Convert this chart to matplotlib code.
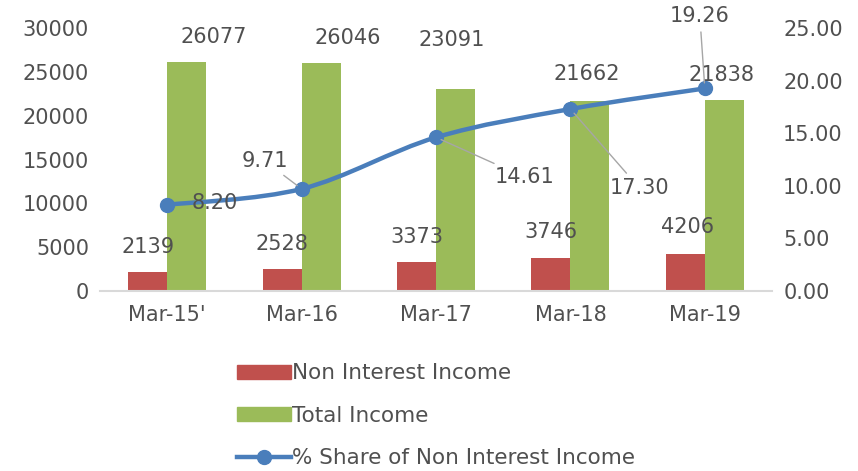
import numpy as np
import matplotlib.pyplot as plt
from matplotlib.path import Path
from matplotlib.patches import PathPatch
from matplotlib.lines import Line2D
from matplotlib.patches import Patch

plt.rcParams['font.family'] = ['DejaVu Sans']

categories = ["Mar-15'", "Mar-16", "Mar-17", "Mar-18", "Mar-19"]
non_interest = [2139, 2528, 3373, 3746, 4206]
total_income = [26077, 26046, 23091, 21662, 21838]
share_pct = [8.20, 9.71, 14.61, 17.30, 19.26]

RED = "#C0504D"
GREEN = "#9BBB59"
BLUE = "#4A7EBB"
TXT = "#505050"
FS = 15

# label offsets in pixels (manual placement like the original)
red_off = [(0, 25), (0, 25), (0, 25), (0, 26), (2, 27)]
green_off = [(27, 25), (27, 25), (-4, 49), (-3, 27), (-3, 25)]
pct_off = [(48, 2), (-37, 28), (89, -40), (69, -79), (-5, 72)]
pct_leader = [False, True, True, True, True]


def smooth_path(xs, ys):
    # Catmull-Rom style bezier control points, like Excel's smoothed line
    pts = np.column_stack([xs, ys]).astype(float)
    verts = [pts[0]]
    codes = [Path.MOVETO]
    n = len(pts)
    for i in range(n - 1):
        p0 = pts[i - 1] if i > 0 else pts[i]
        p1 = pts[i]
        p2 = pts[i + 1]
        p3 = pts[i + 2] if i + 2 < n else pts[i + 1]
        c1 = p1 + (p2 - p0) / 6.0
        c2 = p2 - (p3 - p1) / 6.0
        verts += [c1, c2, p2]
        codes += [Path.CURVE4] * 3
    return Path(verts, codes)


fig = plt.figure(figsize=(8.58, 4.71), dpi=100)
ax = fig.add_axes([0.1166, 0.382, 0.7832, 0.5585])
ax2 = ax.twinx()

x = np.arange(len(categories))
w = 0.29
b1 = ax.bar(x - w / 2, non_interest, w, color=RED, zorder=2)
b2 = ax.bar(x + w / 2, total_income, w, color=GREEN, zorder=2)

for rect, v, off in zip(b1, non_interest, red_off):
    ax.annotate(str(v), (rect.get_x() + rect.get_width() / 2, rect.get_height()),
                xytext=off, textcoords='offset pixels', ha='center', va='center',
                fontsize=FS, color=TXT)
for rect, v, off in zip(b2, total_income, green_off):
    ax.annotate(str(v), (rect.get_x() + rect.get_width() / 2, rect.get_height()),
                xytext=off, textcoords='offset pixels', ha='center', va='center',
                fontsize=FS, color=TXT)

ax.set_xlim(-0.5, len(categories) - 0.5)
ax.set_ylim(0, 30000)
ax.set_yticks(range(0, 30001, 5000))
ax.set_xticks(x)
ax.set_xticklabels(categories)
ax2.set_ylim(0, 25)
ax2.set_yticks(np.arange(0, 25.1, 5))
ax2.set_yticklabels(["%.2f" % t for t in np.arange(0, 25.1, 5)])

ax2.add_patch(PathPatch(smooth_path(x, share_pct), fill=False, edgecolor=BLUE,
                        lw=3.2, capstyle='round', zorder=3))
ax2.plot(x, share_pct, 'o', color=BLUE, ms=10, zorder=4)

for xi, v, off, lead in zip(x, share_pct, pct_off, pct_leader):
    ax2.annotate("%.2f" % v, (xi, v), xytext=off, textcoords='offset pixels',
                 ha='center', va='center', fontsize=FS, color=TXT, zorder=5,
                 arrowprops=dict(arrowstyle='-', color='#A6A6A6', lw=1,
                                 shrinkA=2, shrinkB=4) if lead else None)

for a in (ax, ax2):
    for s in a.spines.values():
        s.set_visible(False)
    a.tick_params(length=0, labelsize=FS, labelcolor=TXT)
ax.spines['bottom'].set_visible(True)
ax.spines['bottom'].set_color('#D9D9D9')
ax.spines['bottom'].set_linewidth(1.5)
ax.tick_params(axis='x', pad=10)
ax.tick_params(axis='y', pad=8)
ax2.tick_params(axis='y', pad=8)

handles = [Patch(color=RED), Patch(color=GREEN),
           Line2D([], [], color=BLUE, lw=3.2, marker='o', ms=10)]
labels = ["Non Interest Income", "Total Income", "% Share of Non Interest Income"]
leg = fig.legend(handles, labels, loc='upper left', bbox_to_anchor=(0.266, 0.247),
                 frameon=False, fontsize=15.5, handlelength=2.5, handleheight=0.6,
                 handletextpad=0.05, labelspacing=1.05, borderaxespad=0)
for t in leg.get_texts():
    t.set_color(TXT)

fig.savefig("out.png", dpi=100)
